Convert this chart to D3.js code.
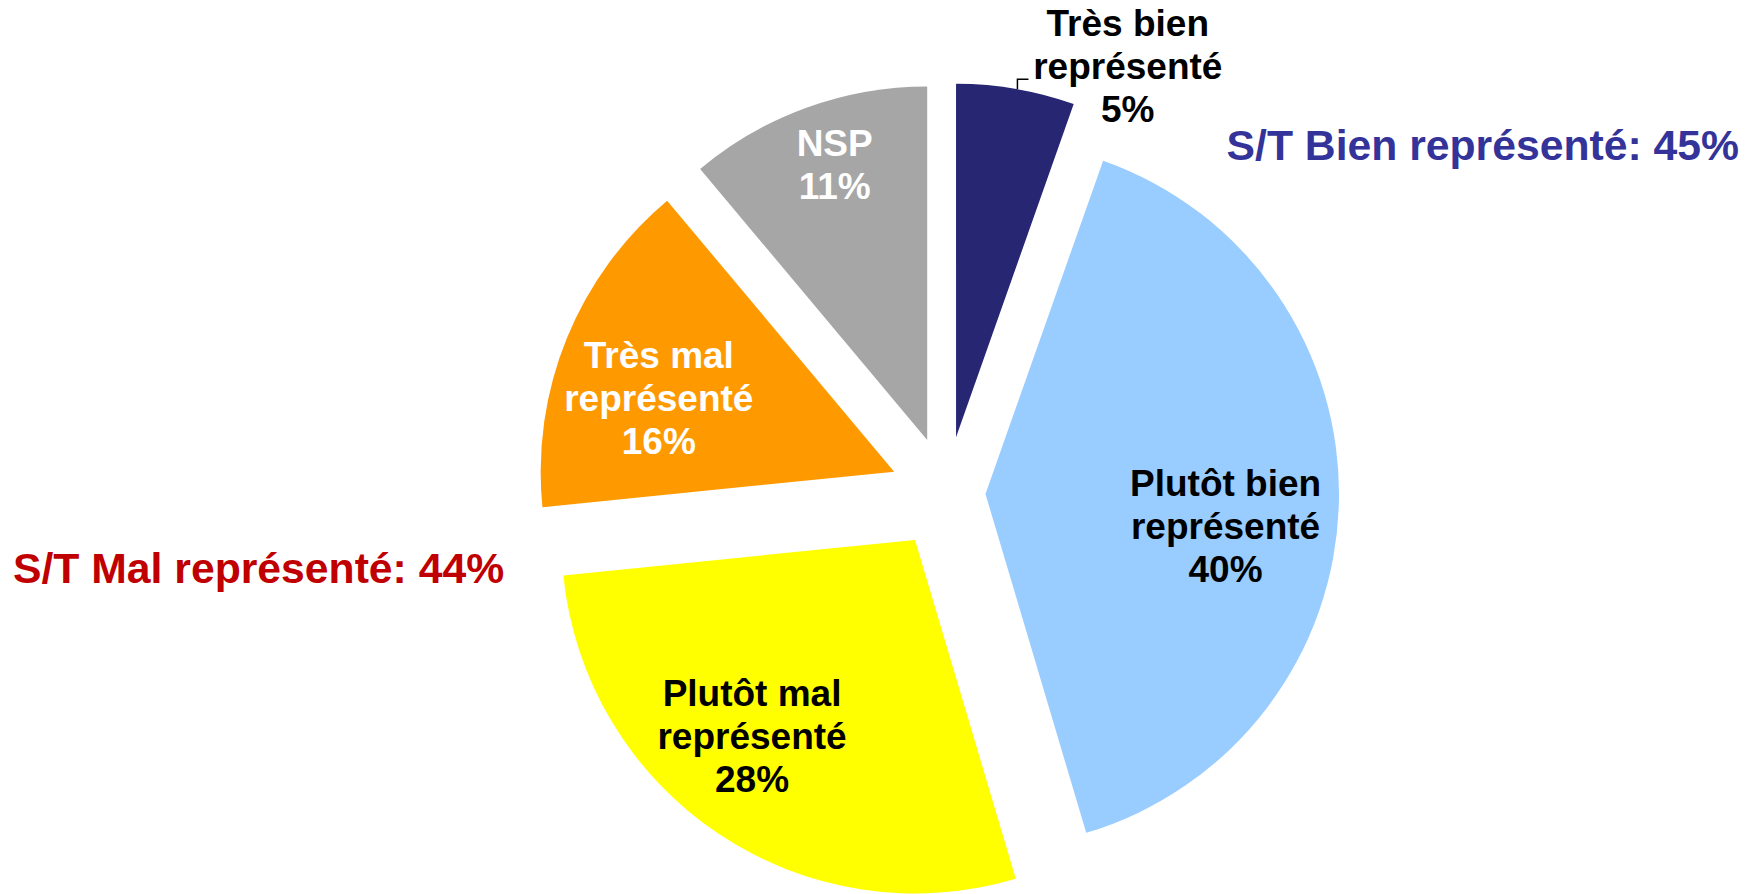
<!DOCTYPE html>
<html>
<head>
<meta charset="utf-8">
<script src="https://cdn.jsdelivr.net/npm/d3@7"></script>
<style>
  body { margin: 0; background: #fff; }
  text { font-family: "Liberation Sans", Arial, sans-serif; font-weight: bold; }
</style>
</head>
<body>
<div id="chart"></div>
<script>
// Data
const categories = ["Très bien représenté", "Plutôt bien représenté", "Plutôt mal représenté", "Très mal représenté", "NSP"];
const values = [5.4, 40.0, 28.0, 15.5, 11.1];   // slice sizes, estimated from the angles
const percentLabels = [5, 40, 28, 16, 11];       // percentages as printed
const labelLines = [["Très bien", "représenté"], ["Plutôt bien", "représenté"], ["Plutôt mal", "représenté"], ["Très mal", "représenté"], ["NSP"]];
const subtotalNames = ["S/T Bien représenté", "S/T Mal représenté"];
const subtotalValues = [45, 44];

// Styles
const sliceColors = ["#262673", "#99CCFF", "#FFFF00", "#FF9900", "#A6A6A6"];
const textColors = ["#000", "#000", "#000", "#fff", "#fff"];
const subtotalColors = ["#333399", "#C00000"];

const width = 1753;
const height = 894;
const cx = 946.5, cy = 493;
const radius = 353.5;
const explode = [56.5, 39, 56.5, 56.5, 56.5];
// label anchor: [angle in degrees clockwise from top, distance from pie centre]
const labelLayout = [[23, 464], [96.7, 281], [218.7, 311], [288.3, 303], [341.2, 347]];
const fontSize = 37;
const lineHeight = 43;

const svg = d3.select("#chart")
  .append("svg")
  .attr("width", width)
  .attr("height", height);

const data = categories.map((c, i) => ({ name: c, value: values[i], i: i }));

const pie = d3.pie()
  .sort(null)
  .value(d => d.value);

const arc = d3.arc()
  .innerRadius(0)
  .outerRadius(radius);

const arcs = pie(data);

const g = svg.append("g")
  .attr("transform", `translate(${cx}, ${cy})`);

g.selectAll("path.slice")
  .data(arcs)
  .join("path")
  .attr("class", "slice")
  .attr("d", arc)
  .attr("fill", d => sliceColors[d.data.i])
  .attr("transform", d => {
    const mid = (d.startAngle + d.endAngle) / 2;
    const off = explode[d.data.i];
    return `translate(${off * Math.sin(mid)}, ${-off * Math.cos(mid)})`;
  });

// leader line for the small first slice
const first = arcs[0];
const firstMid = (first.startAngle + first.endAngle) / 2;
const ox = explode[0] * Math.sin(firstMid), oy = -explode[0] * Math.cos(firstMid);
const leadAngle = 10 * Math.PI / 180;
const lx = ox + radius * Math.sin(leadAngle);
const ly = oy - radius * Math.cos(leadAngle);
g.append("path")
  .attr("d", `M${lx},${ly}V${ly - 10}H${lx + 11}`)
  .attr("fill", "none")
  .attr("stroke", "#000")
  .attr("stroke-width", 1.5);

// slice labels
arcs.forEach(d => {
  const i = d.data.i;
  const a = labelLayout[i][0] * Math.PI / 180;
  const r = labelLayout[i][1];
  const x = r * Math.sin(a);
  const y = -r * Math.cos(a);
  const lines = labelLines[i].concat([percentLabels[i] + "%"]);
  const t = g.append("text")
    .attr("text-anchor", "middle")
    .attr("font-size", fontSize)
    .attr("fill", textColors[i]);
  lines.forEach((line, k) => {
    t.append("tspan")
      .attr("x", x)
      .attr("y", y + (k - (lines.length - 1) / 2) * lineHeight)
      .attr("dy", "0.36em")
      .text(line);
  });
});

// subtotal labels
svg.append("text")
  .attr("x", 1739)
  .attr("y", 145)
  .attr("dy", "0.36em")
  .attr("text-anchor", "end")
  .attr("font-size", 42.7)
  .attr("fill", subtotalColors[0])
  .text(`${subtotalNames[0]}: ${subtotalValues[0]}%`);

svg.append("text")
  .attr("x", 13)
  .attr("y", 568)
  .attr("dy", "0.36em")
  .attr("text-anchor", "start")
  .attr("font-size", 42.7)
  .attr("fill", subtotalColors[1])
  .text(`${subtotalNames[1]}: ${subtotalValues[1]}%`);
</script>
</body>
</html>
